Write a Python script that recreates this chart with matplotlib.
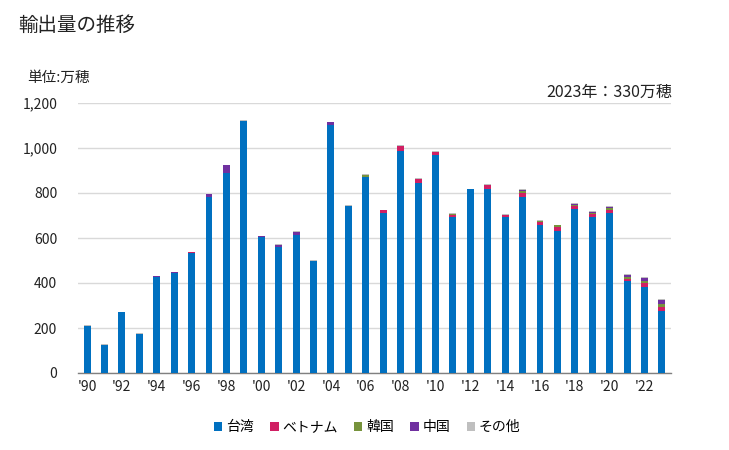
import matplotlib
matplotlib.use("Agg")
import matplotlib.pyplot as plt
import numpy as np

plt.rcParams['font.family'] = ['Noto Sans CJK JP', 'DejaVu Sans']

years = list(range(1990, 2024))
taiwan = [210, 123, 273, 175, 428, 446, 535, 781, 887, 1121,
          603, 561, 615, 499, 1104, 744, 873, 713, 988, 846,
          967, 695, 816, 816, 692, 784, 659, 633, 730, 695,
          713, 407, 384, 277]
vietnam = [0, 0, 0, 0, 0, 0, 4, 0, 0, 0,
           0, 0, 0, 0, 0, 0, 0, 13, 19, 15,
           15, 9, 0, 18, 9, 15, 11, 17, 14, 10,
           13, 12, 17, 18]
korea = [0, 3, 0, 0, 0, 0, 0, 0, 0, 0,
         0, 0, 0, 0, 0, 0, 6, 0, 0, 0,
         0, 4, 0, 0, 0, 11, 7, 6, 4, 8,
         9, 8, 9, 13]
china = [0, 0, 0, 0, 5, 4, 0, 16, 39, 0,
         4, 9, 13, 0, 13, 0, 0, 0, 0, 0,
         0, 0, 0, 0, 0, 5, 0, 0, 5, 4,
         4, 10, 14, 18]
other = [4, 3, 0, 4, 0, 0, 0, 0, 0, 5,
         0, 5, 5, 5, 0, 4, 4, 0, 5, 4,
         3, 3, 0, 5, 4, 4, 4, 3, 4, 4,
         5, 4, 4, 4]
series_names = ['台湾', 'ベトナム', '韓国', '中国', 'その他']
colors = ['#0070c0', '#d01f63', '#77933c', '#7030a0', '#bfbfbf']
xtick_labels = ["'90", "'92", "'94", "'96", "'98", "'00", "'02", "'04", "'06", "'08",
                "'10", "'12", "'14", "'16", "'18", "'20", "'22"]

fig = plt.figure(figsize=(7.29, 4.5), dpi=100)
ax = fig.add_axes([78/729, 1-373/450, (671-78)/729, 270/450])

x = np.arange(len(years))
bottom = np.zeros(len(years))
for vals, name, c in zip([taiwan, vietnam, korea, china, other], series_names, colors):
    v = np.array(vals, dtype=float)
    ax.bar(x, v, 0.4, bottom=bottom, color=c, label=name, zorder=3)
    bottom += v

ax.set_xlim(-0.52, len(years) - 0.48)
ax.set_ylim(0, 1200)
ax.set_yticks(np.arange(0, 1201, 200))
ax.set_yticklabels([f"{v:,}" for v in range(0, 1201, 200)], fontsize=10)
ax.set_xticks(x[::2])
ax.set_xticklabels(xtick_labels, fontsize=10)
ax.yaxis.grid(True, color='#d9d9d9', linewidth=1, zorder=0)
ax.set_axisbelow(True)
for s in ['top', 'right', 'left']:
    ax.spines[s].set_visible(False)
ax.spines['bottom'].set_color('#808080')
ax.spines['bottom'].set_linewidth(1)
ax.tick_params(axis='both', length=0, colors='#222222')
ax.tick_params(axis='y', pad=15)
ax.tick_params(axis='x', pad=5)

fig.text(18/729, 1-25/450, '輸出量の推移', fontsize=14, va='center', ha='left', color='#222222')
fig.text(27/729, 1-78/450, '単位:万穂', fontsize=10.5, va='center', ha='left', color='#222222')
fig.text(672/729, 1-92/450, '2023年：330万穂', fontsize=11.5, va='center', ha='right', color='#222222')

handles, labels = ax.get_legend_handles_labels()
fig.legend(handles, labels, loc='center', bbox_to_anchor=(367/729, 1-427/450), ncol=5,
           frameon=False, fontsize=10, handlelength=0.6, handleheight=0.6,
           handletextpad=0.25, columnspacing=1.2)

fig.savefig('out.png', dpi=100)
